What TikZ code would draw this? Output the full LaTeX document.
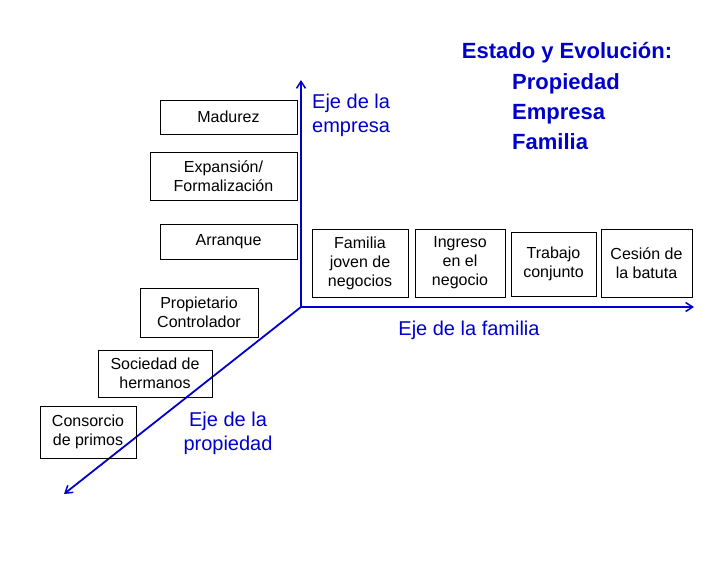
\documentclass[tikz,border=0pt]{standalone}
\usepackage{fontspec}
\setmainfont{Liberation Sans}
\usetikzlibrary{arrows.meta}
\definecolor{axblue}{RGB}{0,0,204}
\begin{document}
\begin{tikzpicture}[x=1pt,y=-1pt,
  bx/.style={draw=black,line width=0.6pt,align=center,inner sep=0pt,font=\fontsize{16}{19}\selectfont},
  axlbl/.style={text=axblue,align=left,font=\fontsize{20}{24}\selectfont},
  ax/.style={draw=axblue,line width=1.8pt,-{Straight Barb[length=7pt,width=9pt,line width=1.5pt]}}]
\useasboundingbox (0,0) rectangle (728,563);
\coordinate (o) at (301,307);
\coordinate (up) at (301,80);
\coordinate (rt) at (694,307);
\coordinate (dl) at (64,494);
\draw[ax] (o) -- (up);
\draw[ax] (o) -- (rt);
\draw[ax] (o) -- (dl);
% boxes
\node[bx,minimum width=137pt,minimum height=34pt] (mad) at (228.5,117) {Madurez};
\node[bx,minimum width=147pt,minimum height=48pt] (exp) at (223.5,176) {Expansión/\\Formalización};
\node[bx,minimum width=137pt,minimum height=35pt] (arr) at (228.5,241.5) {Arranque};
\node[bx,minimum width=118pt,minimum height=49pt] (pro) at (199,312.5) {Propietario\\Controlador};
\node[bx,minimum width=114pt,minimum height=47pt] (soc) at (155,373.5) {Sociedad de\\hermanos};
\node[bx,minimum width=96pt,minimum height=52pt] (con) at (88,432) {Consorcio\\de primos};
\node[bx,minimum width=96pt,minimum height=68pt] (fam) at (360,263) {Familia\\joven de\\negocios};
\node[bx,minimum width=90pt,minimum height=68pt] (ing) at (460,263) {Ingreso\\en el\\negocio};
\node[bx,minimum width=85pt,minimum height=64pt] (tra) at (553.5,264) {Trabajo\\conjunto};
\node[bx,minimum width=91pt,minimum height=68pt] (ces) at (646.5,263) {Cesión de\\la batuta};
% axis labels
\node[axlbl,anchor=north west,inner sep=0pt] (le) at (312,94) {Eje de la\\empresa};
\node[axlbl,inner sep=0pt] (lf) at (469,330) {Eje de la familia};
\node[axlbl,align=center,inner sep=0pt] (lp) at (228,433) {Eje de la\\propiedad};
% title
\node[text=axblue,anchor=north,inner sep=0pt,font=\bfseries\fontsize{22}{30}\selectfont] (t1) at (567,42) {Estado y Evolución:};
\node[text=axblue,anchor=north west,align=left,inner sep=0pt,font=\bfseries\fontsize{22}{30}\selectfont] (t2) at (512,73) {Propiedad\\Empresa\\Familia};
\end{tikzpicture}
\end{document}
